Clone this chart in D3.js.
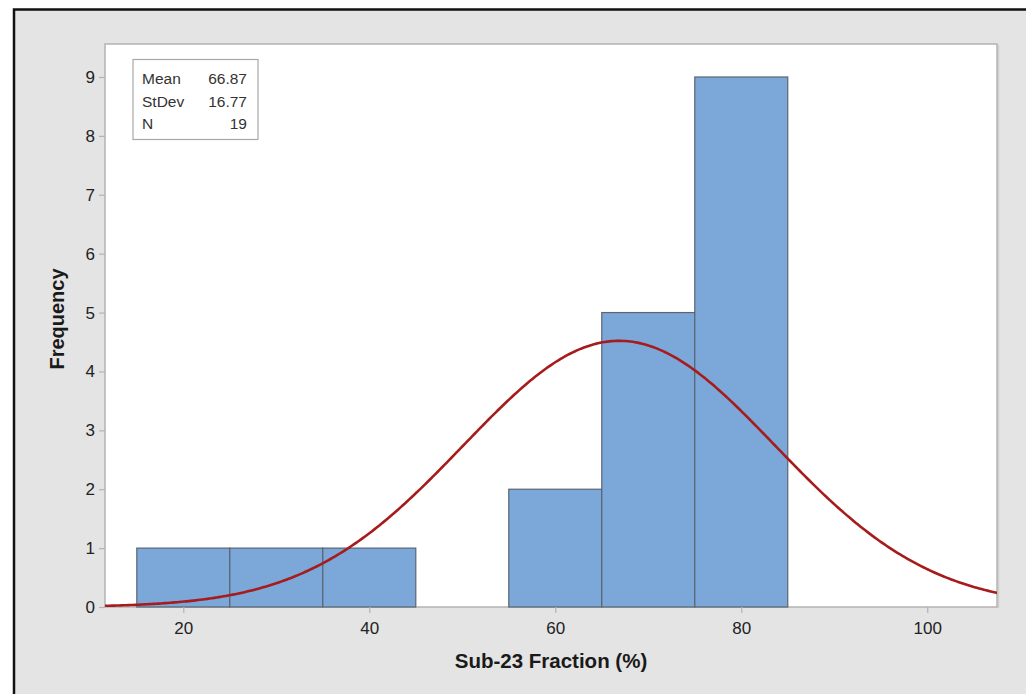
<!DOCTYPE html>
<html>
<head>
<meta charset="utf-8">
<script src="https://cdn.jsdelivr.net/npm/d3@7"></script>
<style>
  body { margin: 0; background: #fff; }
  svg { display: block; }
</style>
</head>
<body>
<div class="chart"></div>
<script>
// histogram bins (lower edge, upper edge, count)
var binStart = [15, 25, 35, 45, 55, 65, 75];
var binEnd = [25, 35, 45, 55, 65, 75, 85];
var counts = [1, 1, 1, 0, 2, 5, 9];
var xTicks = [20, 40, 60, 80, 100];
var yTicks = [0, 1, 2, 3, 4, 5, 6, 7, 8, 9];
var statLabels = ["Mean", "StDev", "N"];
var statValues = ["66.87", "16.77", "19"];
var mean = 66.87, sd = 16.77, n = 19, binWidth = 10;

var font = "'Liberation Sans', Arial, sans-serif";

var svg = d3
    .select(".chart")
    .append("svg")
    .attr("width", 1026)
    .attr("height", 694);

// gray panel with the black frame
svg.append("rect")
    .attr("x", 0).attr("y", 0)
    .attr("width", 1026).attr("height", 694)
    .attr("fill", "#fff");
svg.append("rect")
    .attr("x", 14).attr("y", 9.5)
    .attr("width", 1020).attr("height", 700)
    .attr("fill", "#e4e4e4")
    .attr("stroke", "#111")
    .attr("stroke-width", 2.5);

var plot = { left: 105, top: 44, right: 997, bottom: 607 };

var x = d3.scaleLinear().domain([11.58, 107.5]).range([plot.left, plot.right]);
var y = d3.scaleLinear().domain([0, 9]).range([plot.bottom, 77]);

// faint shadow on the right edge, then the white plot area
svg.append("line")
    .attr("x1", plot.right + 1.5).attr("x2", plot.right + 1.5)
    .attr("y1", plot.top + 1).attr("y2", plot.bottom + 1)
    .attr("stroke", "#cfcfcf")
    .attr("stroke-width", 1.5);
svg.append("rect")
    .attr("x", plot.left).attr("y", plot.top)
    .attr("width", plot.right - plot.left)
    .attr("height", plot.bottom - plot.top)
    .attr("fill", "#fff")
    .attr("stroke", "#b3b3b3")
    .attr("stroke-width", 1.5);

svg.append("defs").append("clipPath").attr("id", "plotclip")
    .append("rect")
    .attr("x", plot.left).attr("y", plot.top)
    .attr("width", plot.right - plot.left)
    .attr("height", plot.bottom - plot.top);

// bars
var bins = counts
    .map((c, i) => ({ x0: binStart[i], x1: binEnd[i], c: c }))
    .filter((d) => d.c > 0);
svg.append("g")
    .selectAll("rect")
    .data(bins)
    .enter()
    .append("rect")
    .attr("x", (d) => x(d.x0))
    .attr("y", (d) => y(d.c))
    .attr("width", (d) => x(d.x1) - x(d.x0))
    .attr("height", (d) => y(0) - y(d.c))
    .attr("fill", "#7ba7d9")
    .attr("stroke", "#5b6470")
    .attr("stroke-width", 1.2);

// fitted normal curve from the shown mean / stdev
var norm = (v) => n * binWidth * Math.exp(-0.5 * Math.pow((v - mean) / sd, 2)) / (sd * Math.sqrt(2 * Math.PI));
var xs = d3.range(11.58, 107.6, 0.25);
var line = d3.line().x((d) => x(d)).y((d) => y(norm(d)));
svg.append("path")
    .datum(xs)
    .attr("d", line)
    .attr("clip-path", "url(#plotclip)")
    .attr("fill", "none")
    .attr("stroke", "#a61c1c")
    .attr("stroke-width", 2.6);

// axes
var xAxis = svg.append("g")
    .attr("transform", `translate(0,${plot.bottom})`)
    .call(d3.axisBottom(x).tickValues(xTicks).tickSize(6).tickPadding(4));
var yAxis = svg.append("g")
    .attr("transform", `translate(${plot.left},0)`)
    .call(d3.axisLeft(y).tickValues(yTicks).tickSize(6).tickPadding(4));

[xAxis, yAxis].forEach((a) => {
    a.select(".domain").remove();
    a.selectAll("line").attr("stroke", "#b3b3b3").attr("stroke-width", 1.2);
    a.selectAll("text")
        .attr("fill", "#222")
        .style("font-family", font)
        .style("font-size", "17px");
});
xAxis.selectAll("text").attr("dy", "1.0em");

svg.append("text")
    .attr("x", 551).attr("y", 668)
    .attr("text-anchor", "middle")
    .style("font-family", font)
    .style("font-size", "20.5px")
    .style("font-weight", "bold")
    .attr("fill", "#1a1a1a")
    .text("Sub-23 Fraction (%)");

svg.append("text")
    .attr("transform", "translate(64,319) rotate(-90)")
    .attr("text-anchor", "middle")
    .style("font-family", font)
    .style("font-size", "20px")
    .style("font-weight", "bold")
    .attr("fill", "#1a1a1a")
    .text("Frequency");

// stats box
var box = svg.append("g");
box.append("rect")
    .attr("x", 133).attr("y", 59.5)
    .attr("width", 125).attr("height", 80)
    .attr("fill", "#fff")
    .attr("stroke", "#a8a8a8")
    .attr("stroke-width", 1.2);
statLabels.forEach((s, i) => {
    box.append("text")
        .attr("x", 142).attr("y", 84 + i * 22.5)
        .style("font-family", font)
        .style("font-size", "15.5px")
        .attr("fill", "#333")
        .text(s);
    box.append("text")
        .attr("x", 247).attr("y", 84 + i * 22.5)
        .attr("text-anchor", "end")
        .style("font-family", font)
        .style("font-size", "15.5px")
        .attr("fill", "#333")
        .text(statValues[i]);
});
</script>
</body>
</html>
